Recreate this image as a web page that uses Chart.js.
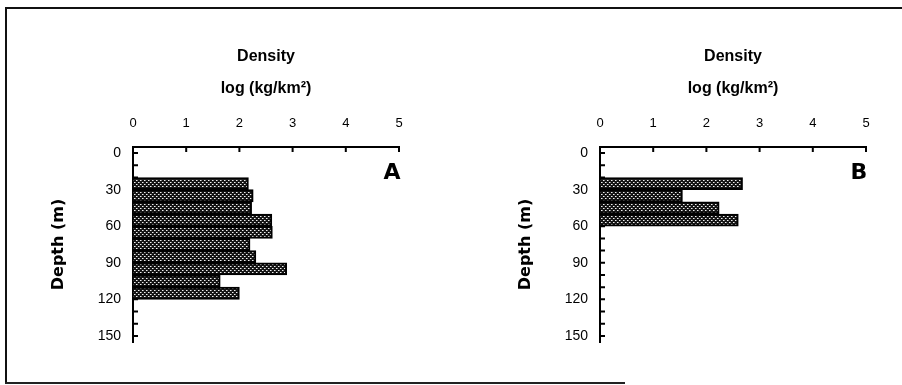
<!DOCTYPE html>
<html lang="en">
<head>
    <meta charset="UTF-8">
    <title>Density by depth</title>
    <script src="https://cdn.jsdelivr.net/npm/chart.js"></script>
    <style>
        body { margin: 0; background: #fff; }
        .page { position: relative; width: 902px; height: 385px; overflow: hidden; }
        .frame { position: absolute; left: 5px; top: 7px; width: 910px; height: 374px;
                 border-top: 2px solid #111; border-left: 2px solid #111; }
        .frame-bottom { position: absolute; left: 5px; top: 382px; width: 620px; border-top: 2px solid #222; }
        .panel { position: absolute; top: 0; width: 430px; height: 385px; }
        #panelA { left: 0; }
        #panelB { left: 467px; }
    </style>
</head>
<body>
    <div class="page">
        <div class="frame"></div>
        <div class="frame-bottom"></div>
        <div class="panel" id="panelA"><canvas id="chartA" width="430" height="385"></canvas></div>
        <div class="panel" id="panelB"><canvas id="chartB" width="430" height="385"></canvas></div>
    </div>

    <script>
        // depth bins (m, bin centre) and log density values
        const depthsA = [25, 35, 45, 55, 65, 75, 85, 95, 105, 115];
        const densityA = [2.17, 2.26, 2.23, 2.61, 2.62, 2.20, 2.31, 2.89, 1.64, 2.00];
        const depthsB = [25, 35, 45, 55];
        const densityB = [2.68, 1.55, 2.24, 2.60];

        const densityTicks = [0, 1, 2, 3, 4, 5];
        const depthLabels = [0, 30, 60, 90, 120, 150];

        // dotted fill like the scanned bars
        function dotPattern() {
            const tile = document.createElement('canvas');
            tile.width = 4; tile.height = 4;
            const t = tile.getContext('2d');
            t.fillStyle = '#151515';
            t.fillRect(0, 0, 4, 4);
            t.fillStyle = '#f0f0f0';
            t.fillRect(0, 0, 1, 1);
            t.fillRect(2, 2, 1, 1);
            t.fillStyle = '#8a8a8a';
            t.fillRect(1, 0, 1, 1);
            t.fillRect(3, 2, 1, 1);
            return t.createPattern(tile, 'repeat');
        }

        // ticks drawn inward from the axes + panel letter
        const panelMarks = {
            id: 'panelMarks',
            afterDatasetsDraw(chart, args, opts) {
                const { ctx, chartArea, scales: { x, y } } = chart;
                ctx.save();
                ctx.strokeStyle = '#000';
                ctx.lineWidth = 2;
                ctx.beginPath();
                x.ticks.forEach(t => {
                    const px = x.getPixelForValue(t.value);
                    ctx.moveTo(px, chartArea.top);
                    ctx.lineTo(px, chartArea.top + 5);
                });
                y.ticks.forEach(t => {
                    const py = y.getPixelForValue(t.value);
                    ctx.moveTo(chartArea.left, py);
                    ctx.lineTo(chartArea.left + 5, py);
                });
                ctx.stroke();
                ctx.fillStyle = '#000';
                ctx.font = 'bold 22px "DejaVu Sans"';
                ctx.textAlign = 'center';
                ctx.textBaseline = 'middle';
                ctx.fillText(opts.letter, chartArea.right - 7, chartArea.top + 26);
                ctx.restore();
            }
        };

        function makeChart(id, depths, values, letter) {
            return new Chart(document.getElementById(id).getContext('2d'), {
                type: 'bar',
                data: {
                    datasets: [{
                        data: depths.map((d, i) => ({ x: values[i], y: d })),
                        backgroundColor: dotPattern(),
                        borderColor: '#000',
                        borderWidth: 2,
                        categoryPercentage: 1,
                        barPercentage: 1
                    }]
                },
                options: {
                    indexAxis: 'y',
                    responsive: false,
                    animation: false,
                    layout: { padding: { left: 0, right: 31, top: 0, bottom: 43 } },
                    plugins: {
                        legend: { display: false },
                        tooltip: { enabled: false },
                        panelMarks: { letter: letter }
                    },
                    scales: {
                        x: {
                            type: 'linear',
                            position: 'top',
                            min: 0,
                            max: 5,
                            afterBuildTicks: s => { s.ticks = densityTicks.map(v => ({ value: v })); },
                            afterFit: s => { s.height = 147; },
                            grid: { display: true, drawOnChartArea: false, drawTicks: false },
                            border: { display: true, color: '#000', width: 2 },
                            ticks: { color: '#000', padding: 16, font: { family: 'Liberation Sans', size: 13 } },
                            title: {
                                display: true,
                                text: ['Density', 'log (kg/km\u00b2)'],
                                color: '#000',
                                font: { family: 'Liberation Sans', size: 16, weight: 'bold', lineHeight: 2 },
                                padding: { top: 41, bottom: 0 }
                            }
                        },
                        y: {
                            type: 'linear',
                            reverse: true,
                            min: 0,
                            max: 150,
                            afterBuildTicks: s => {
                                const t = [];
                                for (let v = 0; v <= 150; v += 10) t.push({ value: v });
                                s.ticks = t;
                            },
                            afterFit: s => { s.width = 133; },
                            grid: { display: true, drawOnChartArea: false, drawTicks: false },
                            border: { display: true, color: '#000', width: 2 },
                            ticks: {
                                color: '#000',
                                padding: 12,
                                autoSkip: false,
                                font: { family: 'Liberation Sans', size: 14 },
                                callback: v => depthLabels.includes(v) ? String(v) : ''
                            },
                            title: {
                                display: true,
                                text: 'Depth (m)',
                                color: '#000',
                                font: { family: 'DejaVu Sans', size: 16, weight: 'bold' },
                                padding: { top: 49, bottom: 0 }
                            }
                        }
                    }
                },
                plugins: [panelMarks]
            });
        }

        makeChart('chartA', depthsA, densityA, 'A');
        makeChart('chartB', depthsB, densityB, 'B');
    </script>
</body>
</html>
